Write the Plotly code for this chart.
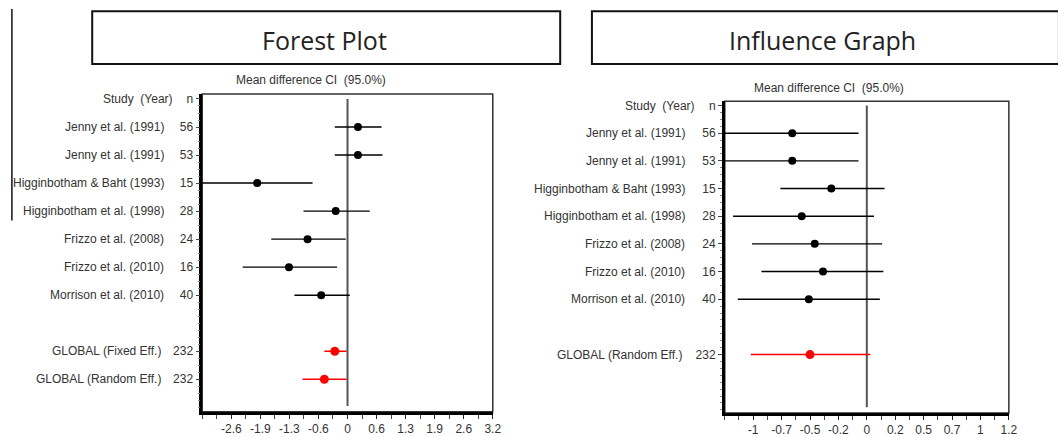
import plotly.graph_objects as go

# ---------------- data ----------------
forest_labels = ["Jenny et al. (1991)", "Jenny et al. (1991)", "Higginbotham & Baht (1993)",
                 "Higginbotham et al. (1998)", "Frizzo et al. (2008)", "Frizzo et al. (2010)",
                 "Morrison et al. (2010)"]
forest_n = [56, 53, 15, 28, 24, 16, 40]
forest_md = [0.23, 0.23, -1.99, -0.26, -0.88, -1.29, -0.58]
forest_lo = [-0.28, -0.28, -3.21, -0.97, -1.68, -2.31, -1.17]
forest_hi = [0.75, 0.77, -0.77, 0.49, -0.04, -0.23, 0.05]

global_labels = ["GLOBAL (Fixed Eff.)", "GLOBAL (Random Eff.)"]
global_n = [232, 232]
global_md = [-0.28, -0.51]
global_lo = [-0.51, -0.99]
global_hi = [-0.02, -0.02]

infl_labels = forest_labels
infl_n = forest_n
infl_md = [-0.63, -0.63, -0.30, -0.55, -0.44, -0.37, -0.49]
infl_lo = [-1.20, -1.20, -0.73, -1.13, -0.97, -0.89, -1.09]
infl_hi = [-0.07, -0.07, 0.15, 0.06, 0.13, 0.14, 0.11]

infl_global_labels = ["GLOBAL (Random Eff.)"]
infl_global_n = [232]
infl_global_md = [-0.48]
infl_global_lo = [-0.98]
infl_global_hi = [0.03]

forest_ticks = [-2.56, -1.92, -1.28, -0.64, 0, 0.64, 1.28, 1.92, 2.56, 3.2]
forest_ticktext = ["-2.6", "-1.9", "-1.3", "-0.6", "0", "0.6", "1.3", "1.9", "2.6", "3.2"]
infl_ticks = [-0.96, -0.72, -0.48, -0.24, 0, 0.24, 0.48, 0.72, 0.96, 1.2]
infl_ticktext = ["-1", "-0.7", "-0.5", "-0.2", "0", "0.2", "0.5", "0.7", "1", "1.2"]

# ---------------- layout helpers ----------------
W, H = 1058, 437
FONT = "Liberation Sans, Arial, sans-serif"
TXT = "#333333"


def px(x):
    return x / W


def py(y):
    return 1 - y / H


fig = go.Figure()

# row positions
f_rows = list(range(1, len(forest_md) + 1))
f_grows = [len(forest_md) + 2 + i for i in range(len(global_md))]
i_rows = list(range(1, len(infl_md) + 1))
i_grows = [len(infl_md) + 2 + i for i in range(len(infl_global_md))]


def add_ci(xs, lo, hi, rows, color, msize, xa, ya):
    fig.add_trace(go.Scatter(
        x=xs, y=rows, mode="markers", xaxis=xa, yaxis=ya,
        marker=dict(color=color, size=msize, symbol="circle"),
        error_x=dict(type="data", symmetric=False,
                     array=[h - m for h, m in zip(hi, xs)],
                     arrayminus=[m - l for m, l in zip(xs, lo)],
                     color=color, thickness=1.4, width=0),
        showlegend=False, hoverinfo="skip", cliponaxis=True))


add_ci(forest_md, forest_lo, forest_hi, f_rows, "#000000", 8, "x", "y")
add_ci(global_md, global_lo, global_hi, f_grows, "#ff0000", 9, "x", "y")
add_ci(infl_md, infl_lo, infl_hi, i_rows, "#000000", 8, "x2", "y2")
add_ci(infl_global_md, infl_global_lo, infl_global_hi, i_grows, "#ff0000", 9, "x2", "y2")

common_x = dict(showgrid=False, zeroline=False, showline=True, linecolor="#000000", linewidth=2.5,
                ticks="outside", ticklen=4, tickcolor="#222222", tickwidth=1,
                tickfont=dict(family=FONT, size=12, color=TXT), tickmode="array",
                minor=dict(ticks="outside", ticklen=4, tickcolor="#444444", tickmode="linear"))
common_y = dict(showgrid=False, zeroline=False, showline=True, linecolor="#000000", linewidth=2.5,
                ticks="outside", ticklen=4, tickcolor="#444444", tickwidth=1,
                tickfont=dict(family=FONT, size=12, color=TXT), tickmode="array",
                minor=dict(ticks="outside", ticklen=2, tickcolor="#888888", tickmode="linear",
                           tick0=0, dtick=0.25))

fig.update_layout(
    width=W, height=H, margin=dict(l=0, r=0, t=0, b=0),
    paper_bgcolor="white", plot_bgcolor="white", showlegend=False,
    xaxis=dict(common_x, domain=[px(204), px(497)], range=[-3.2, 3.2],
               tickvals=forest_ticks, ticktext=forest_ticktext, anchor="y",
               minor=dict(common_x["minor"], tick0=0, dtick=0.32)),
    yaxis=dict(common_y, domain=[py(413.5), py(92)], range=[11.16, -0.18], anchor="x",
               tickvals=[0] + f_rows + f_grows,
               ticktext=["n"] + [str(v) for v in forest_n] + [str(v) for v in global_n]),
    xaxis2=dict(common_x, domain=[px(731), px(1017.5)], range=[-1.2, 1.2],
                tickvals=infl_ticks, ticktext=infl_ticktext, anchor="y2",
                minor=dict(common_x["minor"], tick0=0, dtick=0.12)),
    yaxis2=dict(common_y, domain=[py(414.7), py(99.5)], range=[11.11, -0.15], anchor="x2",
                tickvals=[0] + i_rows + i_grows,
                ticktext=["n"] + [str(v) for v in infl_n] + [str(v) for v in infl_global_n]),
)

shapes = []
# plot frames
for xr, yr in (("x", "y"), ("x2", "y2")):
    shapes.append(dict(type="rect", xref=xr + " domain", yref=yr + " domain", x0=0, x1=1, y0=0, y1=1,
                       line=dict(color="#333333", width=1.5), layer="below"))
# zero reference lines
shapes.append(dict(type="line", xref="x", yref="y", x0=0, x1=0, y0=0, y1=10.95,
                   line=dict(color="#555555", width=2), layer="below"))
shapes.append(dict(type="line", xref="x2", yref="y2", x0=0, x1=0, y0=0, y1=10.9,
                   line=dict(color="#555555", width=2), layer="below"))
# title boxes
shapes.append(dict(type="rect", xref="paper", yref="paper", x0=px(93), x1=px(565), y0=py(61.7), y1=py(8.3),
                   line=dict(color="#111111", width=2)))
shapes.append(dict(type="rect", xref="paper", yref="paper", x0=px(597), x1=px(1068), y0=py(61.7), y1=py(8.3),
                   line=dict(color="#111111", width=2)))
# stray vertical line at left edge
shapes.append(dict(type="line", xref="paper", yref="paper", x0=px(12), x1=px(12), y0=py(220), y1=py(6),
                   line=dict(color="#111111", width=1.5)))
fig.update_layout(shapes=shapes)

ann = []
lab_font = dict(family=FONT, size=12, color=TXT)
# study names
for lbl, r in zip(forest_labels, f_rows):
    ann.append(dict(text=lbl, xref="paper", yref="y", x=px(167), y=r, xanchor="right", yanchor="middle",
                    showarrow=False, font=lab_font))
for lbl, r in zip(global_labels, f_grows):
    ann.append(dict(text=lbl, xref="paper", yref="y", x=px(164), y=r, xanchor="right", yanchor="middle",
                    showarrow=False, font=lab_font))
for lbl, r in zip(infl_labels, i_rows):
    ann.append(dict(text=lbl, xref="paper", yref="y2", x=px(692.5), y=r, xanchor="right", yanchor="middle",
                    showarrow=False, font=lab_font))
for lbl, r in zip(infl_global_labels, i_grows):
    ann.append(dict(text=lbl, xref="paper", yref="y2", x=px(689.5), y=r, xanchor="right", yanchor="middle",
                    showarrow=False, font=lab_font))
ann.append(dict(text="Study\u00a0 (Year)", xref="paper", yref="y", x=px(176), y=0, xanchor="right",
                yanchor="middle", showarrow=False, font=lab_font))
ann.append(dict(text="Study\u00a0 (Year)", xref="paper", yref="y2", x=px(703), y=0, xanchor="right",
                yanchor="middle", showarrow=False, font=lab_font))
# CI headers
ann.append(dict(text="Mean difference CI\u00a0 (95.0%)", xref="paper", yref="paper", x=px(314), y=py(78),
                xanchor="center", yanchor="middle", showarrow=False, font=lab_font))
ann.append(dict(text="Mean difference CI\u00a0 (95.0%)", xref="paper", yref="paper", x=px(836), y=py(86),
                xanchor="center", yanchor="middle", showarrow=False, font=lab_font))
# box titles
title_font = dict(family="Open Sans, Lato, sans-serif", size=25, color="#222222")
ann.append(dict(text="Forest Plot", xref="paper", yref="paper", x=px(327), y=py(37),
                xanchor="center", yanchor="middle", showarrow=False, font=title_font))
ann.append(dict(text="Influence Graph", xref="paper", yref="paper", x=px(830), y=py(37),
                xanchor="center", yanchor="middle", showarrow=False, font=title_font))
fig.update_layout(annotations=ann)

fig.write_html("out.html")
